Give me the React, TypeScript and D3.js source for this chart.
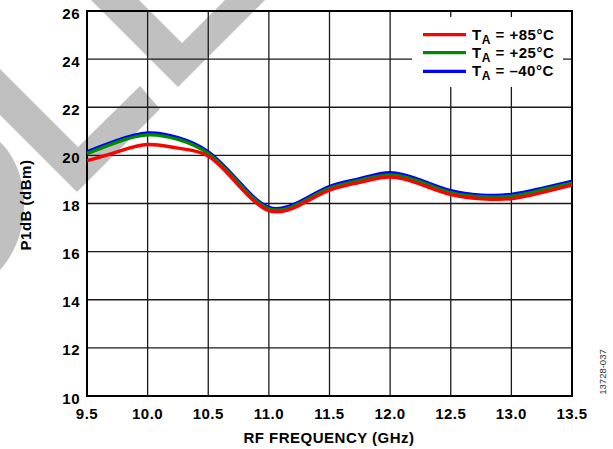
import React from "react";
import * as d3 from "d3";

// P1dB vs RF frequency at three ambient temperatures
const freqGHz = [9.5, 9.75, 10.0, 10.25, 10.5, 10.75, 11.0, 11.25, 11.5, 11.75, 12.0, 12.25, 12.5, 12.75, 13.0, 13.25, 13.5];
const p1dbHot = [19.78, 20.15, 20.45, 20.3, 19.97, 18.75, 17.7, 17.92, 18.55, 18.88, 19.1, 18.8, 18.37, 18.2, 18.2, 18.45, 18.76];
const p1dbRoom = [20.07, 20.55, 20.85, 20.66, 20.07, 18.85, 17.78, 18.0, 18.63, 18.96, 19.19, 18.9, 18.45, 18.28, 18.3, 18.56, 18.85];
const p1dbCold = [20.15, 20.62, 20.93, 20.74, 20.15, 18.92, 17.84, 18.06, 18.7, 19.03, 19.28, 18.97, 18.53, 18.35, 18.38, 18.63, 18.92];

const xTicks = [9.5, 10.0, 10.5, 11.0, 11.5, 12.0, 12.5, 13.0, 13.5];
const yTicks = [10, 12, 14, 16, 18, 20, 22, 24, 26];

const seriesNames = ["+85°C", "+25°C", "–40°C"];
const seriesColors = ["#ff0000", "#008a00", "#0000ff"];

const W = 613;
const H = 449;
const left = 87;
const right = 572;
const top = 11;
const bottom = 396;

const font = "'Liberation Sans', Arial, Helvetica, sans-serif";
const fs = 15;
const ls = 0.5;

export default function App() {
  const x = d3.scaleLinear().domain([9.5, 13.5]).range([left, right]);
  const y = d3.scaleLinear().domain([10, 26]).range([bottom, top]);

  const line = d3
    .line<number>()
    .x((_, i) => x(freqGHz[i]))
    .y((v) => y(v))
    .curve(d3.curveNatural);

  const series = [p1dbHot, p1dbRoom, p1dbCold];
  // draw order: cold first, hot last
  const drawOrder = [2, 1, 0];

  const legendX0 = 423;
  const legendX1 = 466;
  const legendYs = [34.7, 52.7, 71.3];

  return (
    <svg
      width={W}
      height={H}
      style={{ position: "absolute", left: 0, top: 0, background: "#fff" }}
      fontFamily={font}
    >
      {/* background watermark */}
      <g fill="#c0c0c0">
        <path d="M91,0 L178,87 L265,0 L225,0 L182,43 L139,0 Z" />
        <path d="M0,69 L0,115 L77,192 L160,109 L140,86 L78,147 Z" />
        <path d="M0,142 C30,170 34,232 0,270 Z" />
      </g>

      {/* grid */}
      <g stroke="#1a1a1a" strokeWidth={1.3}>
        {xTicks.slice(1, -1).map((t) => (
          <line key={"gx" + t} x1={x(t)} x2={x(t)} y1={top} y2={bottom} />
        ))}
        {yTicks.slice(1, -1).map((t) => (
          <line key={"gy" + t} x1={left} x2={right} y1={y(t)} y2={y(t)} />
        ))}
      </g>

      {/* legend background */}
      <rect x={412} y={17} width={151} height={70} fill="#fff" />

      {/* frame */}
      <rect x={left} y={top} width={right - left} height={bottom - top} fill="none" stroke="#000" strokeWidth={2} />

      {/* curves */}
      {drawOrder.map((k) => (
        <path
          key={"s" + k}
          d={line(series[k]) || ""}
          fill="none"
          stroke={seriesColors[k]}
          strokeWidth={3.4}
          strokeLinejoin="round"
        />
      ))}

      {/* y tick labels */}
      {yTicks.map((t) => (
        <text key={"yl" + t} x={80} y={y(t) + 7.5} textAnchor="end" fontSize={fs} fontWeight="bold" letterSpacing={ls}>
          {t}
        </text>
      ))}

      {/* x tick labels */}
      {xTicks.map((t) => (
        <text key={"xl" + t} x={x(t)} y={419} textAnchor="middle" fontSize={fs} fontWeight="bold" letterSpacing={ls}>
          {t.toFixed(1)}
        </text>
      ))}

      {/* axis titles */}
      <text x={329} y={443} textAnchor="middle" fontSize={fs} fontWeight="bold" letterSpacing={ls}>
        RF FREQUENCY (GHz)
      </text>
      <text
        transform={`translate(30.5,205) rotate(-90)`}
        textAnchor="middle"
        fontSize={fs}
        fontWeight="bold"
        letterSpacing={ls}
      >
        P1dB (dBm)
      </text>

      {/* legend */}
      {seriesNames.map((name, i) => (
        <g key={"lg" + i}>
          <line x1={legendX0} x2={legendX1} y1={legendYs[i]} y2={legendYs[i]} stroke={seriesColors[i]} strokeWidth={3.2} />
          <text x={472} y={legendYs[i] + 4.8} fontSize={fs} fontWeight="bold" letterSpacing={ls}>
            T
            <tspan fontSize={12} dy={4}>A</tspan>
            <tspan dy={-4}>{" = " + name}</tspan>
          </text>
        </g>
      ))}

      {/* figure id */}
      <text
        transform={`translate(606,372) rotate(-90)`}
        textAnchor="middle"
        fontSize={9.5}
        fill="#333"
      >
        13728-037
      </text>
    </svg>
  );
}
